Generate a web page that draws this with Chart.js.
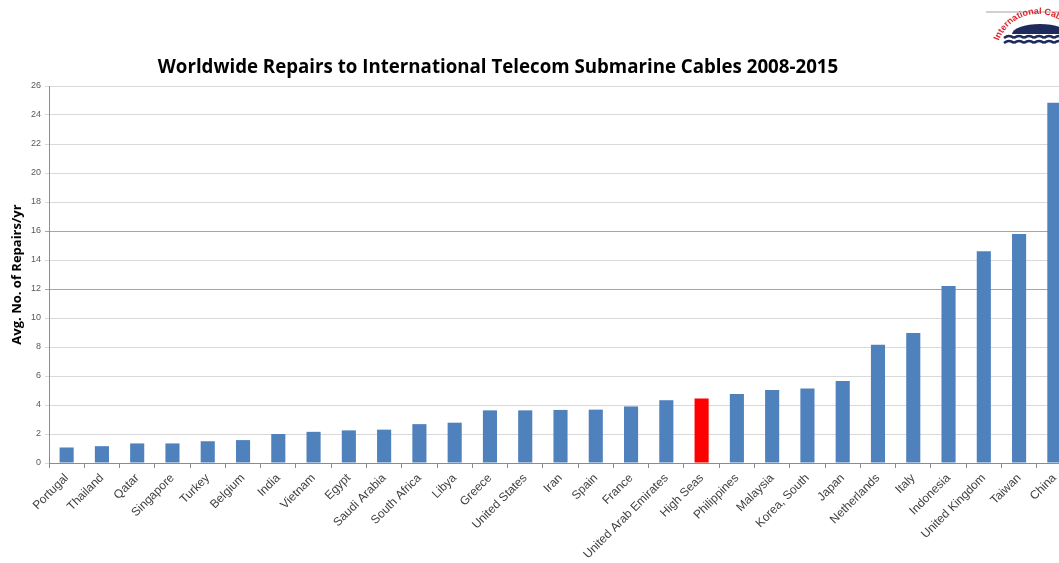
<!DOCTYPE html>
<html>
<head>
<meta charset="utf-8">
<script src="https://cdn.jsdelivr.net/npm/chart.js@4.4.0/dist/chart.umd.min.js"></script>
<style>
  html, body { margin: 0; padding: 0; background: #fff; overflow: hidden; }
  #wrap { position: relative; width: 1072px; height: 563px; }
</style>
</head>
<body>
<div id="wrap"><canvas id="repairsChart"></canvas></div>
<script>
// Data
const countries = ["Portugal", "Thailand", "Qatar", "Singapore", "Turkey", "Belgium", "India", "Vietnam",
  "Egypt", "Saudi Arabia", "South Africa", "Libya", "Greece", "United States", "Iran", "Spain", "France",
  "United Arab Emirates", "High Seas", "Philippines", "Malaysia", "Korea, South", "Japan", "Netherlands",
  "Italy", "Indonesia", "United Kingdom", "Taiwan", "China"];
const avgRepairs = [1.07, 1.16, 1.35, 1.35, 1.5, 1.58, 2.0, 2.15, 2.25, 2.3, 2.68, 2.78, 3.63, 3.63, 3.66,
  3.68, 3.9, 4.33, 4.45, 4.76, 5.03, 5.13, 5.65, 8.15, 8.97, 12.2, 14.6, 15.8, 24.85];
const highlighted = "High Seas";
const yTicks = [0, 2, 4, 6, 8, 10, 12, 14, 16, 18, 20, 22, 24, 26];
const chartTitle = "Worldwide Repairs to International Telecom Submarine Cables 2008-2015";

const barColors = countries.map(c => c === highlighted ? "#ff0000" : "#4f81bd");

// title sits left of the canvas centre in the original, so draw it ourselves
const titlePlugin = {
  id: "sideTitle",
  afterDraw(chart) {
    const ctx = chart.ctx;
    ctx.save();
    ctx.fillStyle = "#000";
    ctx.font = "bold 18.7px 'Open Sans', sans-serif";
    ctx.textAlign = "center";
    ctx.textBaseline = "middle";
    ctx.fillText(chartTitle, 498, 68);
    ctx.restore();
  }
};

// small stand-in for the logo in the top right corner
const logoPlugin = {
  id: "logo",
  afterDraw(chart) {
    const ctx = chart.ctx;
    ctx.save();
    ctx.strokeStyle = "#d0d0d0";
    ctx.lineWidth = 2;
    ctx.beginPath(); ctx.moveTo(986, 12); ctx.lineTo(1072, 12); ctx.stroke();
    ctx.fillStyle = "#1f2a5c";
    ctx.beginPath();
    ctx.ellipse(1040, 34, 28, 10, 0, Math.PI, 2 * Math.PI);
    ctx.fill();
    ctx.strokeStyle = "#1f2a5c";
    ctx.lineWidth = 2.5;
    for (let row = 0; row < 2; row++) {
      ctx.beginPath();
      for (let x = 1004; x < 1072; x += 10) {
        ctx.moveTo(x, 38 + row * 5);
        ctx.quadraticCurveTo(x + 5, 34 + row * 5, x + 10, 38 + row * 5);
      }
      ctx.stroke();
    }
    ctx.fillStyle = "#e0262b";
    ctx.font = "bold 9px 'Liberation Sans', sans-serif";
    let ang = -1.2;
    for (const ch of "International Cable") {
      ctx.save();
      ctx.translate(1038 + 42 * Math.cos(-Math.PI / 2 + ang), 56 + 42 * Math.sin(-Math.PI / 2 + ang));
      ctx.rotate(ang);
      ctx.fillText(ch, 0, 0);
      ctx.restore();
      ang += ctx.measureText(ch).width / 42;
    }
    ctx.restore();
  }
};

new Chart(document.getElementById("repairsChart"), {
  type: "bar",
  data: {
    labels: countries,
    datasets: [{
      data: avgRepairs,
      backgroundColor: barColors,
      barPercentage: 0.4,
      categoryPercentage: 1.0
    }]
  },
  options: {
    responsive: true,
    maintainAspectRatio: false,
    animation: false,
    layout: { padding: { top: 86, left: 0, right: 0, bottom: 0 } },
    plugins: {
      legend: { display: false },
      tooltip: { enabled: false },
      title: { display: false }
    },
    scales: {
      x: {
        grid: { drawOnChartArea: false, drawTicks: true, tickLength: 5, color: "#8c8c8c" },
        border: { color: "#8c8c8c" },
        ticks: {
          autoSkip: false, maxRotation: 45, minRotation: 45, padding: 3,
          color: "#404040", font: { family: "'Liberation Sans', sans-serif", size: 12 }
        },
        afterFit(scale) { scale.height = 100; }
      },
      y: {
        min: 0, max: 26,
        afterBuildTicks(scale) { scale.ticks = yTicks.map(v => ({ value: v })); },
        grid: {
          color: ctx => (ctx.tick && (ctx.tick.value === 12 || ctx.tick.value === 16)) ? "#a6a6a6" : "#d9d9d9",
          drawTicks: true, tickLength: 4
        },
        border: { color: "#8c8c8c" },
        ticks: { color: "#595959", padding: 4, font: { family: "'Liberation Sans', sans-serif", size: 9 } },
        title: {
          display: true, text: "Avg. No. of Repairs/yr", color: "#000", padding: { top: 9, bottom: 0 },
          font: { family: "'Open Sans', sans-serif", size: 13, weight: "bold" }
        },
        afterFit(scale) { scale.width = 49; }
      }
    }
  },
  plugins: [titlePlugin, logoPlugin]
});
</script>
</body>
</html>
